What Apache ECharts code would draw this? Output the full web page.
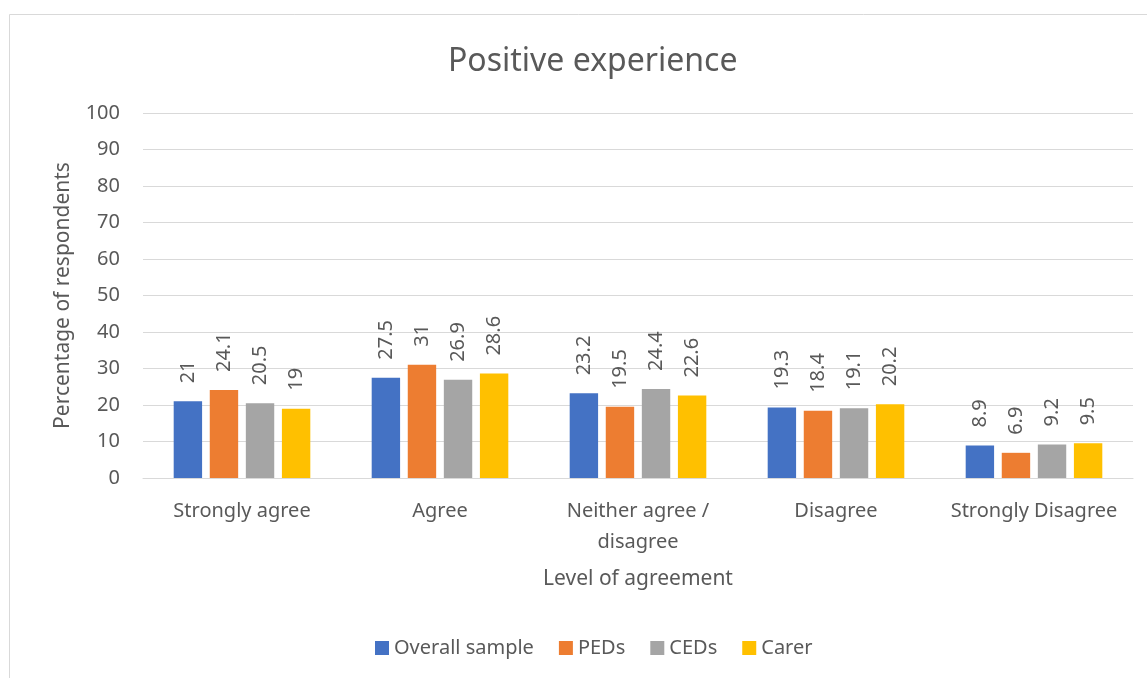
<!DOCTYPE html>
<html>
<head>
<meta charset="utf-8">
<script src="https://cdn.jsdelivr.net/npm/echarts@6/dist/echarts.min.js"></script>
<style>
html, body { margin: 0; padding: 0; background: #fff; }
#chart { width: 1147px; height: 678px; }
</style>
</head>
<body>
<div id="chart"></div>
<script>
var categories = ['Strongly agree', 'Agree', 'Neither agree /\ndisagree', 'Disagree', 'Strongly Disagree'];
var seriesNames = ['Overall sample', 'PEDs', 'CEDs', 'Carer'];
var overallSample = [21, 27.5, 23.2, 19.3, 8.9];
var peds = [24.1, 31, 19.5, 18.4, 6.9];
var ceds = [20.5, 26.9, 24.4, 19.1, 9.2];
var carer = [19, 28.6, 22.6, 20.2, 9.5];
var colors = ['#4472c4', '#ed7d31', '#a5a5a5', '#ffc000'];

var textColor = '#595959';
var font = 'Noto Sans';

var chart = echarts.init(document.getElementById('chart'));

function makeSeries(name, data, color) {
    return {
        name: name,
        type: 'bar',
        data: data,
        barGap: '27%',
        barCategoryGap: '31%',
        itemStyle: { color: color },
        label: {
            show: true,
            position: 'top',
            rotate: 90,
            align: 'left',
            verticalAlign: 'middle',
            distance: 18,
            color: textColor,
            fontFamily: font,
            fontSize: 20
        }
    };
}

var option = {
    backgroundColor: '#fff',
    textStyle: { fontFamily: font },
    graphic: [{
        type: 'rect',
        shape: { x: 9.5, y: 14.5, width: 1160, height: 700 },
        style: { fill: 'none', stroke: '#d9d9d9', lineWidth: 1 },
        silent: true
    }],
    title: {
        text: 'Positive experience',
        left: 443,
        top: 41,
        textStyle: { color: textColor, fontFamily: font, fontSize: 32, fontWeight: 'normal' }
    },
    legend: {
        bottom: 15,
        left: 370,
        itemWidth: 14,
        itemHeight: 14,
        itemGap: 25,
        icon: 'rect',
        textStyle: { color: textColor, fontFamily: font, fontSize: 20 },
        data: seriesNames
    },
    grid: {
        left: 143,
        right: 14,
        top: 113,
        bottom: 200,
        containLabel: false
    },
    xAxis: {
        type: 'category',
        data: categories,
        name: 'Level of agreement',
        nameLocation: 'middle',
        nameGap: 91,
        nameTextStyle: { color: textColor, fontFamily: font, fontSize: 21 },
        axisLine: { lineStyle: { color: '#d9d9d9', width: 1 } },
        axisTick: { show: false },
        axisLabel: { color: textColor, fontFamily: font, fontSize: 20, margin: 18, lineHeight: 31, interval: 0 }
    },
    yAxis: {
        type: 'value',
        min: 0,
        max: 100,
        interval: 10,
        name: 'Percentage of respondents',
        nameLocation: 'middle',
        nameGap: 69,
        nameTextStyle: { color: textColor, fontFamily: font, fontSize: 21 },
        axisLine: { show: false },
        axisTick: { show: false },
        axisLabel: { color: textColor, fontFamily: font, fontSize: 20, margin: 23 },
        splitLine: { lineStyle: { color: '#d9d9d9', width: 1 } }
    },
    series: [
        makeSeries(seriesNames[0], overallSample, colors[0]),
        makeSeries(seriesNames[1], peds, colors[1]),
        makeSeries(seriesNames[2], ceds, colors[2]),
        makeSeries(seriesNames[3], carer, colors[3])
    ]
};

chart.setOption(option);
</script>
</body>
</html>
